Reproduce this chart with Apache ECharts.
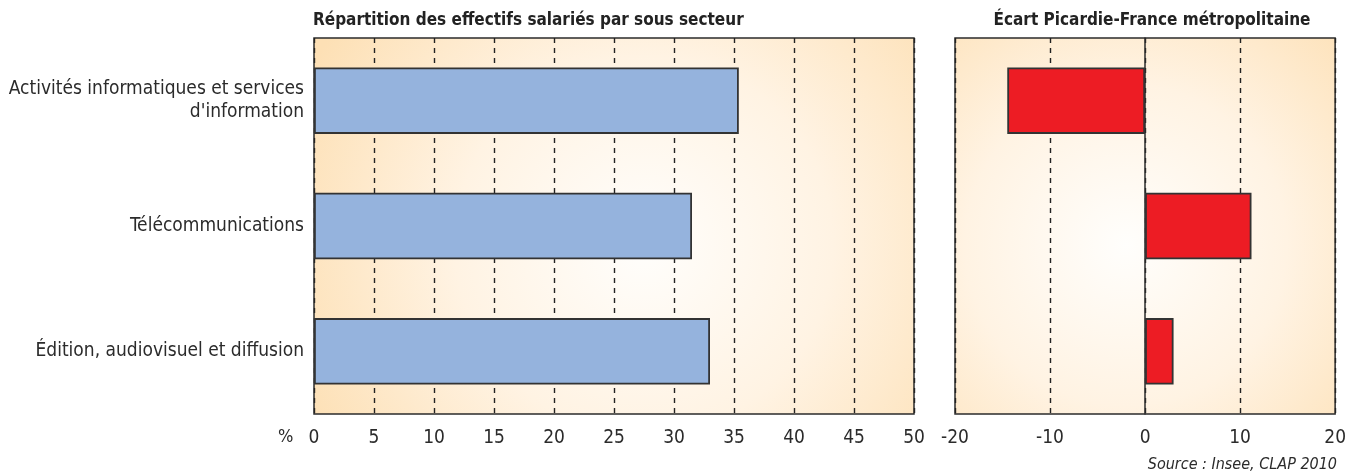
<!DOCTYPE html>
<html>
<head>
<meta charset="utf-8">
<script src="https://cdn.jsdelivr.net/npm/echarts@6/dist/echarts.min.js"></script>
<style>
  html, body { margin: 0; padding: 0; background: #fff; }
  #chart { width: 1349px; height: 476px; }
</style>
</head>
<body>
<div id="chart"></div>
<script>
var categories = ['Activités informatiques et services\nd\'information', 'Télécommunications', 'Édition, audiovisuel et diffusion'];
var repartition = [35.4, 31.5, 33.0];
var ecart = [-14.5, 11.2, 3.0];
var leftTicks = [0, 5, 10, 15, 20, 25, 30, 35, 40, 45, 50];
var rightTicks = [-20, -10, 0, 10, 20];

var font = "'Liberation Sans Narrow', 'DejaVu Sans Condensed', 'Roboto Condensed', sans-serif";

function bgGradient(cx, cy, r) {
    return new echarts.graphic.RadialGradient(cx, cy, r, [
        { offset: 0, color: '#fffefc' },
        { offset: 0.5, color: '#fff3e3' },
        { offset: 1, color: '#fde0b5' }
    ]);
}

var dashed = { show: true, lineStyle: { color: '#222', width: 1.4, type: [5, 5] } };

var myChart = echarts.init(document.getElementById('chart'));
var option = {
    animation: false,
    textStyle: { fontFamily: font },
    grid: [
        { left: 314, top: 38, width: 600, height: 376, show: true, backgroundColor: bgGradient(0.55, 0.55, 1.0), borderColor: '#2b2b2b', borderWidth: 1.5 },
        { left: 955, top: 38, width: 384, height: 376, show: true, backgroundColor: bgGradient(0.45, 0.55, 0.85), borderColor: '#2b2b2b', borderWidth: 1.5 }
    ],
    title: [
        { text: 'Répartition des effectifs salariés par sous secteur', left: 313, top: 12, padding: 0,
          textStyle: { fontFamily: font, fontSize: 17, fontWeight: 'bold', color: '#222' } },
        { text: 'Écart Picardie-France métropolitaine', left: 1152, textAlign: 'center', top: 12, padding: 0,
          textStyle: { fontFamily: font, fontSize: 17, fontWeight: 'bold', color: '#222' } }
    ],
    xAxis: [
        { type: 'value', gridIndex: 0, min: leftTicks[0], max: leftTicks[leftTicks.length - 1], interval: 5,
          axisLine: { show: false }, axisTick: { show: false },
          axisLabel: { color: '#2b2b2b', fontSize: 19, margin: 15, fontFamily: font },
          splitLine: dashed },
        { type: 'value', gridIndex: 1, min: rightTicks[0], max: rightTicks[rightTicks.length - 1], interval: 10,
          axisLine: { show: false }, axisTick: { show: false },
          axisLabel: { color: '#2b2b2b', fontSize: 19, margin: 15, fontFamily: font },
          splitLine: dashed }
    ],
    yAxis: [
        { type: 'category', gridIndex: 0, data: categories, inverse: true,
          axisLine: { show: false }, axisTick: { show: false },
          axisLabel: { color: '#2b2b2b', fontSize: 19, margin: 10, lineHeight: 23, fontFamily: font } },
        { type: 'category', gridIndex: 1, data: categories, inverse: true,
          axisLine: { show: true, onZero: true, lineStyle: { color: '#2b2b2b', width: 1.5 } },
          axisTick: { show: false }, axisLabel: { show: false } }
    ],
    series: [
        { type: 'bar', xAxisIndex: 0, yAxisIndex: 0, data: repartition, barWidth: '53%',
          itemStyle: { color: '#95b3dd', borderColor: '#333', borderWidth: 1.8 } },
        { type: 'bar', xAxisIndex: 1, yAxisIndex: 1, data: ecart, barWidth: '53%',
          itemStyle: { color: '#ed1c24', borderColor: '#333', borderWidth: 1.8 } }
    ],
    graphic: [
        { type: 'text', left: 278, top: 428, style: { text: '%', fontSize: 18, fill: '#2b2b2b', fontFamily: font } },
        { type: 'text', right: 12, top: 457, style: { text: 'Source : Insee, CLAP 2010', fontSize: 16, fontStyle: 'italic', fill: '#2b2b2b', fontFamily: font } }
    ]
};
myChart.setOption(option);
window.onresize = myChart.resize;
</script>
</body>
</html>
